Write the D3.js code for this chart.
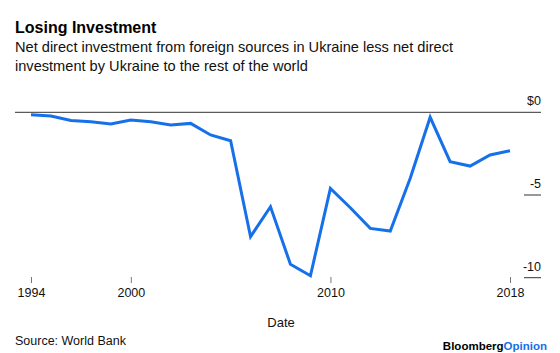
<!DOCTYPE html>
<html lang="en">
<head>
<meta charset="utf-8">
<title>Losing Investment</title>
<script type="text/javascript" src="https://cdn.jsdelivr.net/npm/d3@7"></script>
<style>
  body { margin: 0; background: #fff; }
  text { font-family: "Liberation Sans", Arial, sans-serif; }
</style>
</head>
<body>
<div id="chart"></div>
<script type="text/javascript">
  let years = [1994, 1995, 1996, 1997, 1998, 1999, 2000, 2001, 2002, 2003, 2004, 2005, 2006,
               2007, 2008, 2009, 2010, 2011, 2012, 2013, 2014, 2015, 2016, 2017, 2018]
  let values = [-0.15, -0.22, -0.5, -0.57, -0.71, -0.47, -0.57, -0.77, -0.67, -1.37, -1.72, -7.52, -5.71,
                -9.19, -9.88, -4.6, -5.77, -7.02, -7.18, -3.99, -0.3, -2.98, -3.25, -2.58, -2.32]
  let yTicks = [0, -5, -10]
  let xTickYears = [2000, 2010]

  // each yearly value sits at the end of its year
  let data = years.map((y, i) => ({date: new Date(y, 11, 31), value: values[i]}))

  let width = 560
  let height = 353

  let svg = d3.select("#chart").append("svg").attr("width", width).attr("height", height)

  let xScale = d3.scaleTime()
                 .domain(d3.extent(data, (d) => d.date))
                 .range([31, 510])

  let yScale = d3.scaleLinear()
                 .domain([0, -10])
                 .range([112.3, 277.7])

  svg.append("text")
     .attr("x", 15).attr("y", 33)
     .attr("font-size", 16).attr("font-weight", "bold").attr("fill", "#000")
     .text("Losing Investment")

  svg.append("text")
     .attr("x", 15).attr("y", 52)
     .attr("font-size", 14.6).attr("fill", "#111")
     .text("Net direct investment from foreign sources in Ukraine less net direct")

  svg.append("text")
     .attr("x", 15).attr("y", 71)
     .attr("font-size", 14.6).attr("fill", "#111")
     .text("investment by Ukraine to the rest of the world")

  // y axis: zero line across, short marks for the others
  let yAxis = svg.append("g").attr("class", "y axis")
  yAxis.selectAll("line")
       .data(yTicks)
       .enter()
       .append("line")
        .attr("x1", (d) => d === 0 ? 15 : 524)
        .attr("x2", 541)
        .attr("y1", (d) => yScale(d))
        .attr("y2", (d) => yScale(d))
        .attr("stroke", "#333")
        .attr("stroke-width", 1)

  yAxis.selectAll("text")
       .data(yTicks)
       .enter()
       .append("text")
        .attr("x", 541)
        .attr("y", (d) => yScale(d) - 7)
        .attr("text-anchor", "end")
        .attr("font-size", 12.5)
        .attr("fill", "#111")
        .text((d) => d === 0 ? "$0" : d)

  // x axis: end labels plus round years
  let first = data[0].date
  let last = data[data.length - 1].date
  let xTicks = [first].concat(xTickYears.map((y) => new Date(y, 0, 1)), [last])

  let xAxis = d3.axisBottom(xScale)
                .tickValues(xTicks)
                .tickFormat(d3.timeFormat("%Y"))
                .tickSize(6)
                .tickPadding(5)

  let xg = svg.append("g")
              .attr("class", "x axis")
              .attr("transform", "translate(0,277)")
              .call(xAxis)
  xg.select(".domain").remove()
  xg.selectAll(".tick line").attr("stroke", "#777")
  xg.selectAll(".tick text")
    .attr("font-family", "Liberation Sans, Arial, sans-serif")
    .attr("font-size", 12.5)
    .attr("fill", "#111")

  svg.append("text")
     .attr("x", 281).attr("y", 327)
     .attr("text-anchor", "middle")
     .attr("font-size", 13).attr("fill", "#111")
     .text("Date")

  let line = d3.line()
               .x((d) => xScale(d.date))
               .y((d) => yScale(d.value))

  svg.append("path")
     .datum(data)
     .attr("d", line)
     .attr("fill", "none")
     .attr("stroke", "#1670ea")
     .attr("stroke-width", 3)
     .attr("stroke-linejoin", "miter")

  svg.append("text")
     .attr("x", 15).attr("y", 345)
     .attr("font-size", 12.5).attr("fill", "#111")
     .text("Source: World Bank")

  let logo = svg.append("text")
                .attr("x", 547).attr("y", 350)
                .attr("text-anchor", "end")
                .attr("font-size", 11.5).attr("font-weight", "bold")
  logo.append("tspan").attr("fill", "#000").text("Bloomberg")
  logo.append("tspan").attr("fill", "#1670ea").text("Opinion")
</script>
</body>
</html>
